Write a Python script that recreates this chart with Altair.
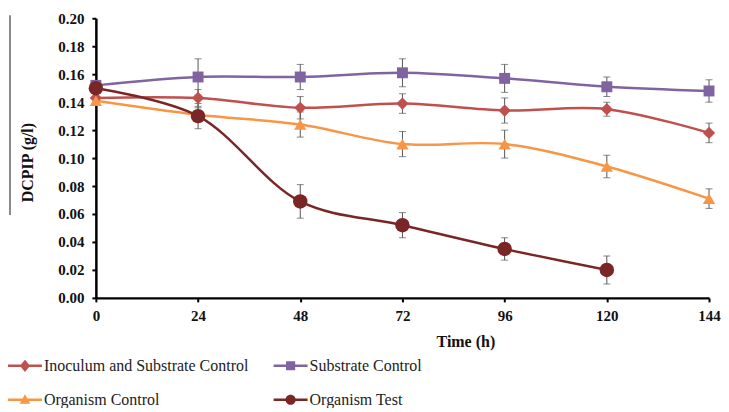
import altair as alt
import pandas as pd

# ---- data ----
times = [0, 24, 48, 72, 96, 120, 144]
series_names = [
    "Inoculum and Substrate Control",
    "Substrate Control",
    "Organism Control",
    "Organism Test",
]
inoc = [0.143, 0.143, 0.136, 0.139, 0.134, 0.135, 0.118]
inoc_err = [0.004, 0.006, 0.008, 0.007, 0.009, 0.005, 0.007]
substrate = [0.152, 0.158, 0.158, 0.161, 0.157, 0.151, 0.148]
substrate_err = [0.003, 0.013, 0.009, 0.010, 0.010, 0.007, 0.008]
org_ctrl = [0.141, 0.131, 0.124, 0.110, 0.110, 0.094, 0.071]
org_ctrl_err = [0.003, 0.005, 0.009, 0.009, 0.010, 0.008, 0.007]
org_test = [0.150, 0.130, 0.069, 0.052, 0.035, 0.020]
org_test_err = [0.003, 0.009, 0.012, 0.009, 0.008, 0.010]
y_ticks = [0.00, 0.02, 0.04, 0.06, 0.08, 0.10, 0.12, 0.14, 0.16, 0.18, 0.20]

colors = ["#C0504D", "#8064A2", "#F79646", "#7B2626"]
shapes = ["diamond", "square", "triangle-up", "circle"]
sizes = [150, 120, 150, 210]

# legend symbols: line with marker (custom paths in a [-1,1] box)
bar = "M-1,-0.075L1,-0.075L1,0.075L-1,0.075Z"
legend_paths = [
    bar + "M0,-0.36L0.3,0L0,0.36L-0.3,0Z",
    bar + "M-0.27,-0.27L0.27,-0.27L0.27,0.27L-0.27,0.27Z",
    bar + "M0,-0.33L0.31,0.24L-0.31,0.24Z",
    bar + "M0.3,0A0.3,0.3 0 1,1 -0.3,0A0.3,0.3 0 1,1 0.3,0Z",
]

all_values = [inoc, substrate, org_ctrl, org_test]
all_errs = [inoc_err, substrate_err, org_ctrl_err, org_test_err]

rows = []
for i, name in enumerate(series_names):
    for t, v, e in zip(times, all_values[i], all_errs[i]):
        rows.append({
            "series": name, "time": t, "value": v, "err": e,
            "color": colors[i], "shape": shapes[i], "msize": sizes[i],
            "order": i,
        })
df = pd.DataFrame(rows)

FONT = "Liberation Serif"
XT = "Time (h)"
YT = "DCPIP (g/l)"

x_scale = alt.Scale(domain=[0, 144], nice=False, zero=False)
y_scale = alt.Scale(domain=[0, 0.2], nice=False)
x_axis = alt.Axis(values=times, title=XT)
y_axis = alt.Axis(values=y_ticks, format=".2f", labelOverlap=False, title=YT)


def X(field):
    return alt.X(field, scale=x_scale, axis=x_axis)


def Y(field):
    return alt.Y(field, scale=y_scale, axis=y_axis)


base = alt.Chart(df)

err_df = base.transform_calculate(lo="datum.value - datum.err",
                                  hi="datum.value + datum.err")

err_rule = err_df.mark_rule(color="#555555", strokeWidth=1).encode(
    x=X("time:Q"), y=Y("lo:Q"), y2="hi:Q",
)
cap_lo = err_df.mark_tick(color="#555555", orient="horizontal", size=7, thickness=1).encode(
    x=X("time:Q"), y=Y("lo:Q"))
cap_hi = err_df.mark_tick(color="#555555", orient="horizontal", size=7, thickness=1).encode(
    x=X("time:Q"), y=Y("hi:Q"))

lines = base.mark_line(interpolate="catmull-rom", strokeWidth=2.5).encode(
    x=X("time:Q"), y=Y("value:Q"),
    color=alt.Color("color:N", scale=None),
    detail="series:N",
)

points = base.mark_point(filled=True, opacity=1).encode(
    x=X("time:Q"), y=Y("value:Q"),
    color=alt.Color("color:N", scale=None),
    shape=alt.Shape("shape:N", scale=None),
    size=alt.Size("msize:Q", scale=None),
)

legend_props = dict(
    orient="none", legendX=-88, legendY=331, columns=2, direction="horizontal",
    columnPadding=25, rowPadding=9, symbolSize=1156,
    symbolStrokeWidth=0, symbolOpacity=1,
    labelFont=FONT, labelFontSize=16, labelColor="#222222",
    labelOffset=2, labelLimit=400, title=None,
)
legend_layer = base.mark_point(filled=True, opacity=1).encode(
    x=X("time:Q"), y=Y("value:Q"),
    color=alt.Color("series:N",
                    scale=alt.Scale(domain=series_names, range=colors),
                    legend=alt.Legend(**legend_props)),
    shape=alt.Shape("series:N",
                    scale=alt.Scale(domain=series_names, range=legend_paths),
                    legend=alt.Legend(**legend_props)),
).transform_filter("false")

side_line = alt.Chart(pd.DataFrame({"a": [0]})).mark_rule(
    color="#8a8a8a", strokeWidth=2
).encode(x=alt.value(-86), y=alt.value(-3), y2=alt.value(197))

chart = alt.layer(
    side_line, err_rule, cap_lo, cap_hi, lines, points, legend_layer
).properties(
    width=614, height=280,
    padding={"left": 0, "top": 3, "right": 0, "bottom": 0},
    background="white",
).configure_view(
    stroke=None
).configure_axis(
    grid=False, domainColor="#000000", domainWidth=2.5,
    tickColor="#000000", tickWidth=2, tickSize=4,
    labelFont=FONT, labelFontSize=15, labelFontWeight="bold", labelColor="#111111",
    titleFont=FONT, titleFontSize=16, titleFontWeight="bold", titleColor="#111111",
).configure_axisX(
    labelPadding=7, titleX=370, titleY=44, titleBaseline="middle",
    titleAnchor="middle", labelFlush=False,
).configure_axisY(
    labelPadding=8, titleX=-68, titleY=144, titleAngle=-90,
    titleBaseline="middle", titleAlign="center", labelOverlap=False,
)

chart.save("out.html", embed_options={"renderer": "svg", "actions": False})
